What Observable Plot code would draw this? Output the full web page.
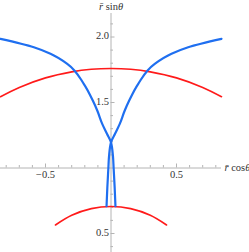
<!DOCTYPE html>
<html><head><meta charset="utf-8">
<script src="https://cdn.jsdelivr.net/npm/d3@7"></script>
<script src="https://cdn.jsdelivr.net/npm/@observablehq/plot@0.6"></script>
<style>
html,body{margin:0;padding:0;background:#fff;}
</style>
</head><body>
<div id="chart"></div>
<script>
// Blue curve A (top-left → crossing → bottom-right)
const blueAx = [-0.8435, -0.589, -0.462, -0.334, -0.208, -0.139, -0.105, -0.067, -0.030, 0.000, 0.015, 0.020, 0.028, 0.034];
const blueAy = [1.986, 1.922, 1.872, 1.795, 1.643, 1.515, 1.439, 1.337, 1.260, 1.197, 1.090, 1.000, 0.851, 0.708];
// Blue curve B (mirror: top-right → crossing → bottom-left)
const blueBx = [0.8435, 0.589, 0.462, 0.334, 0.208, 0.139, 0.105, 0.067, 0.030, 0.000, -0.015, -0.020, -0.028, -0.034];
const blueBy = [1.986, 1.922, 1.872, 1.795, 1.643, 1.515, 1.439, 1.337, 1.260, 1.197, 1.090, 1.000, 0.851, 0.708];
// Red upper arc
const redUx = [-0.8435, -0.7, -0.5, -0.3, -0.15, 0, 0.15, 0.3, 0.5, 0.7, 0.8435];
const redUy = [1.544, 1.615, 1.688, 1.734, 1.754, 1.760, 1.754, 1.734, 1.688, 1.615, 1.544];
// Red lower arc
const redLx = [-0.424, -0.3, -0.15, 0, 0.15, 0.3, 0.424];
const redLy = [0.565, 0.639, 0.690, 0.706, 0.690, 0.639, 0.565];
// Ticks
const xMajor = [-0.5, 0.5];
const xMajorLabels = ["\u22120.5", "0.5"];
const xMinor = [-0.8,-0.7,-0.6,-0.4,-0.3,-0.2,-0.1,0.1,0.2,0.3,0.4,0.6,0.7,0.8];
const yMajor = [0.5, 1.5, 2.0];
const yMajorLabels = ["0.5", "1.5", "2.0"];
const yMinor = [0.4,0.6,0.7,0.8,0.9,1.1,1.2,1.3,1.4,1.6,1.7,1.8,1.9,2.1];
const xLabel = "r\u0304 cos\u03b8";
const yLabel = "r\u0304 sin\u03b8";

const W = 249, H = 252;
const k = 131;            // pixels per unit
const ox = 110.5, oy = 167.5; // pixel position of (0, 1)
const xDom = [-ox / k, (W - ox) / k];
const yDom = [1 - (H - oy) / k, 1 + oy / k];
const px = 1 / k;
const serif = "Liberation Serif";

const zip = (xs, ys) => xs.map((x, i) => ({x, y: ys[i]}));
const axisColor = "#b4b4b4";
const labelColor = "#333";

const chart = Plot.plot({
  width: W, height: H,
  marginLeft: 0, marginRight: 0, marginTop: 0, marginBottom: 0,
  x: {domain: xDom, axis: null},
  y: {domain: yDom, axis: null},
  style: {background: "#fff", fontSize: "10px"},
  marks: [
    Plot.ruleX([0], {y1: yDom[0], y2: 1 + 154.5 / k, stroke: axisColor, strokeWidth: 1}),
    Plot.ruleY([1], {x1: -0.8435, x2: 0.8435, stroke: axisColor, strokeWidth: 1}),
    Plot.ruleX(xMajor, {y1: 1, y2: 1 + 4 * px, stroke: axisColor}),
    Plot.ruleX(xMinor, {y1: 1, y2: 1 + 2.5 * px, stroke: axisColor}),
    Plot.ruleY(yMajor, {x1: 0, x2: 4 * px, stroke: axisColor}),
    Plot.ruleY(yMinor, {x1: 0, x2: 2.5 * px, stroke: axisColor}),
    Plot.text(xMajor, {x: d => d, y: 1, text: (d, i) => xMajorLabels[i], dy: 7, fill: labelColor, fontSize: 10.5}),
    Plot.text(yMajor, {x: 0, y: d => d, text: (d, i) => yMajorLabels[i], textAnchor: "end", dx: -2, dy: -1, fill: labelColor, fontSize: 10.5}),
    Plot.line(zip(redUx, redUy), {x: "x", y: "y", stroke: "#ff1a1a", strokeWidth: 1.6, curve: "catmull-rom"}),
    Plot.line(zip(redLx, redLy), {x: "x", y: "y", stroke: "#ff1a1a", strokeWidth: 1.6, curve: "catmull-rom"}),
    Plot.line(zip(blueAx, blueAy), {x: "x", y: "y", stroke: "#1f6ff0", strokeWidth: 2.2, curve: "monotone-y"}),
    Plot.line(zip(blueBx, blueBy), {x: "x", y: "y", stroke: "#1f6ff0", strokeWidth: 2.2, curve: "monotone-y"}),
    Plot.text([yLabel], {x: 0, y: yDom[1], text: d => d, dy: 6, fill: labelColor, fontSize: 10.5}),
    Plot.text([xLabel], {x: 0.866, y: 1, text: d => d, textAnchor: "start", fill: labelColor, fontSize: 10.5})
  ]
});
document.getElementById("chart").appendChild(chart);

// serif font for all texts, applied directly on each text element
chart.style.fontFamily = serif;
chart.querySelectorAll("g").forEach(g => { if (g.getAttribute("font-family")) g.removeAttribute("font-family"); });
chart.querySelectorAll("text").forEach(t => {
  t.style.fontFamily = serif;
  const s = t.textContent;
  if (s === xLabel || s === yLabel) {
    const fn = s === xLabel ? " cos" : " sin";
    t.textContent = "";
    const mk = (txt, it) => {
      const ts = document.createElementNS("http://www.w3.org/2000/svg", "tspan");
      ts.textContent = txt;
      if (it) ts.setAttribute("font-style", "italic");
      t.appendChild(ts);
    };
    mk("r\u0304", true); mk(fn, false); mk("\u03b8", true);
  }
});
</script>
</body></html>
